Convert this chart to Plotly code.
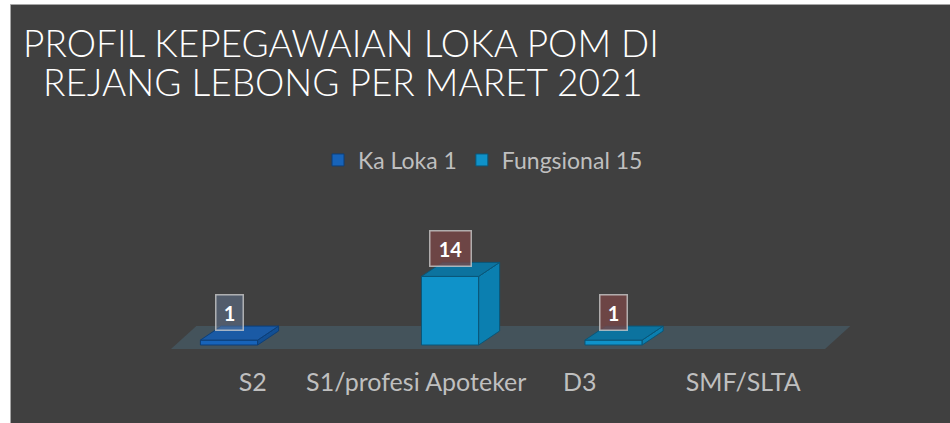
import plotly.graph_objects as go

# ---------------- data ----------------
categories = ["S2", "S1/profesi Apoteker", "D3", "SMF/SLTA"]
ka_loka = [1, None, None, None]
fungsional = [None, 14, 1, None]
series_names = ["Ka Loka 1", "Fungsional 15"]
title_lines = ["PROFIL KEPEGAWAIAN LOKA POM DI", "REJANG LEBONG PER MARET 2021"]

# ---------------- geometry / style ----------------
W, H = 950, 423
L, R, T, B = 150, 880, 190, 365          # plot area in pixels
XR = [-0.6284, 3.8364]
YR = [-4.082, 31.63]
BW = 0.35                                 # bar width (axis units)
OFFSETS = [-0.32, 0.032]                  # per-series offset inside category
DX, DY = 0.128, 2.86                      # 3-D depth of bars
FDX, FDY0, FDY1 = 0.155, -0.816, 3.88     # floor depth

front_cols = ["#1763b9", "#0f92c9"]
side_cols = ["#124f94", "#0b7fb0"]
top_cols = ["#1a5aa5", "#0c739f"]
edge_cols = ["#0d3f78", "#0a5678"]
label_bg = ["rgba(100,120,150,0.5)", "rgba(120,70,70,0.8)"]

def px_x(p):
    return (p - L) / (R - L)

def px_y(p):
    return (B - p) / (B - T)

fig = go.Figure()

series = [ka_loka, fungsional]
n = len(categories)

# front faces as real bars
for s, vals in enumerate(series):
    fig.add_trace(go.Bar(
        x=list(range(n)), y=vals, name=series_names[s],
        width=BW, offset=OFFSETS[s],
        marker=dict(color=front_cols[s], line=dict(color=edge_cols[s], width=1)),
        hoverinfo="y",
    ))

# side and top faces derived from the same values
for s, vals in enumerate(series):
    sx, sy, tx, ty = [], [], [], []
    for i, v in enumerate(vals):
        if v is None:
            continue
        x0 = i + OFFSETS[s]
        x1 = x0 + BW
        sx += [x1, x1 + DX, x1 + DX, x1, x1, None]
        sy += [0, DY, v + DY, v, 0, None]
        tx += [x0, x1, x1 + DX, x0 + DX, x0, None]
        ty += [v, v, v + DY, v + DY, v, None]
    fig.add_trace(go.Scatter(x=sx, y=sy, mode="lines", fill="toself",
                             fillcolor=side_cols[s],
                             line=dict(color=edge_cols[s], width=1),
                             showlegend=False, hoverinfo="skip"))
    fig.add_trace(go.Scatter(x=tx, y=ty, mode="lines", fill="toself",
                             fillcolor=top_cols[s],
                             line=dict(color=edge_cols[s], width=1),
                             showlegend=False, hoverinfo="skip"))

shapes = [
    # white strips + thin frame at the left and top edges of the slide
    dict(type="rect", xref="paper", yref="paper",
         x0=px_x(-10), x1=px_x(10.5), y0=px_y(H + 10), y1=px_y(-10),
         fillcolor="#ffffff", line=dict(width=0), layer="below"),
    dict(type="rect", xref="paper", yref="paper",
         x0=px_x(-10), x1=px_x(W + 10), y0=px_y(4.5), y1=px_y(-10),
         fillcolor="#ffffff", line=dict(width=0), layer="below"),
    dict(type="line", xref="paper", yref="paper",
         x0=px_x(10.5), x1=px_x(10.5), y0=px_y(H + 10), y1=px_y(4.5),
         line=dict(color="#a6a6a6", width=1), layer="below"),
    dict(type="line", xref="paper", yref="paper",
         x0=px_x(10.5), x1=px_x(W + 10), y0=px_y(4.5), y1=px_y(4.5),
         line=dict(color="#a6a6a6", width=1), layer="below"),
    # floor
    dict(type="path", xref="x", yref="y", layer="below",
         path=f"M{-0.5},{FDY0} L{n - 0.5},{FDY0} L{n - 0.5 + FDX},{FDY1} L{-0.5 + FDX},{FDY1} Z",
         fillcolor="#44535b", line=dict(width=0)),
]

annotations = []
# data labels
for s, vals in enumerate(series):
    for i, v in enumerate(vals):
        if v is None:
            continue
        txt = str(v)
        annotations.append(dict(
            x=i + OFFSETS[s] + BW / 2, y=v, xref="x", yref="y",
            text=f"<b>{txt}</b>", showarrow=False,
            xanchor="center", yanchor="bottom", yshift=9,
            width=14 * len(txt) + 12, height=34, borderpad=0,
            bgcolor=label_bg[s], bordercolor="rgba(210,210,210,0.75)", borderwidth=1.5,
            font=dict(family="Lato", size=20, color="#ffffff"),
        ))

# title: one text block, glyphs at 37px with tighter (39px) line spacing,
# second line slightly indented as in the slide
annotations.append(dict(
    text=(f"<span style='font-size:37px'>{title_lines[0]}</span><br>"
          f"<span style='font-size:37px'>\u00a0\u00a0{title_lines[1]}</span>"),
    xref="paper", yref="paper", x=px_x(21), y=px_y(62.5),
    xanchor="left", yanchor="middle", align="left", showarrow=False,
    font=dict(family="Lato", size=30, color="#ffffff", weight=300)))

fig.update_layout(
    width=W, height=H,
    margin=dict(l=L, r=W - R, t=T, b=H - B, pad=0),
    paper_bgcolor="#404040", plot_bgcolor="rgba(0,0,0,0)",
    barmode="overlay",
    showlegend=True,
    legend=dict(orientation="h", x=px_x(483), y=px_y(160), xanchor="center",
                yanchor="middle", bgcolor="rgba(0,0,0,0)",
                font=dict(family="Lato", size=23, color="#bfbfbf"),
                itemwidth=30, tracegroupgap=0),
    xaxis=dict(range=XR, tickvals=list(range(n)), ticktext=categories,
               showgrid=False, zeroline=False, showline=False, ticks="",
               tickfont=dict(family="Lato", size=25, color="#bfbfbf"),
               fixedrange=True),
    yaxis=dict(range=YR, visible=False, showgrid=False, zeroline=False,
               fixedrange=True),
    shapes=shapes,
    annotations=annotations,
    font=dict(family="Lato", color="#bfbfbf"),
)

fig.write_html(
    "out.html",
    config={"displayModeBar": False},
    post_script=("document.body.style.margin='0';"
                 "document.body.style.overflow='hidden';"
                 "document.body.style.background='#404040';"
                 "document.documentElement.style.overflow='hidden';"
                 "document.documentElement.style.background='#404040';"),
)
